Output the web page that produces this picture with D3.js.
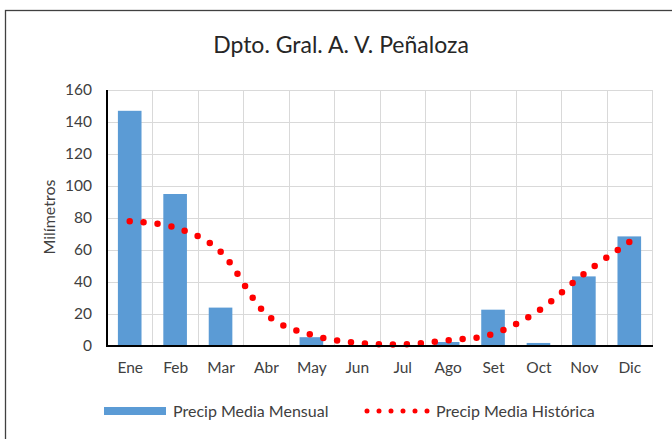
<!DOCTYPE html>
<html>
<head>
<meta charset="utf-8">
<script src="https://cdn.jsdelivr.net/npm/d3@7"></script>
<style>
  html, body { margin: 0; padding: 0; background: #fff; }
  svg { display: block; }
  text { font-family: Lato, "Open Sans", sans-serif; }
</style>
</head>
<body>
<svg id="chart" width="672" height="439"></svg>
<script>
const months = ["Ene","Feb","Mar","Abr","May","Jun","Jul","Ago","Set","Oct","Nov","Dic"];
const mensual = [147, 95, 24, 0, 5.5, 0, 0, 2.5, 22.7, 1.9, 43.5, 68.5];
const historica = [78, 74, 59, 20, 7, 2, 1, 3.5, 7.5, 22, 45, 65];
const yTicks = [0, 20, 40, 60, 80, 100, 120, 140, 160];
const titleText = "Dpto. Gral. A. V. Peñaloza";
const yTitle = "Milímetros";
const seriesNames = ["Precip Media Mensual", "Precip Media Histórica"];

const svg = d3.select("#chart");
const pL = 107, pR = 652, pT = 90, pB = 346;
const fs = 15.5;

// outer border (right and bottom beyond view)
svg.append("rect").attr("x", 5.5).attr("y", 10.5).attr("width", 700).attr("height", 500)
  .attr("fill", "none").attr("stroke", "#404040").attr("stroke-width", 1.3);

const x = d3.scaleBand().domain(months).range([pL, pR]).paddingInner(0.48).paddingOuter(0.24);
const xc = d3.scalePoint().domain(months).range([pL, pR]).padding(0.5);
const y = d3.scaleLinear().domain([0, 160]).range([pB, pT]);

// grid horizontal
svg.append("g").selectAll("line").data(yTicks.slice(1)).join("line")
  .attr("x1", pL).attr("x2", pR)
  .attr("y1", d => Math.round(y(d)) + 0.5).attr("y2", d => Math.round(y(d)) + 0.5)
  .attr("stroke", "#d9d9d9").attr("stroke-width", 1);
// grid vertical at category boundaries
const step = (pR - pL) / months.length;
svg.append("g").selectAll("line").data(d3.range(1, months.length + 1)).join("line")
  .attr("x1", i => Math.round(pL + i * step) + 0.5).attr("x2", i => Math.round(pL + i * step) + 0.5)
  .attr("y1", pT).attr("y2", pB)
  .attr("stroke", "#d9d9d9").attr("stroke-width", 1);

// bars
svg.append("g").selectAll("rect").data(mensual).join("rect")
  .attr("x", (d, i) => x(months[i]))
  .attr("width", x.bandwidth())
  .attr("y", d => y(d))
  .attr("height", d => pB - y(d))
  .attr("fill", "#5b9bd5");

// historical smoothed dotted line
const line = d3.line().x((d, i) => xc(months[i])).y(d => y(d)).curve(d3.curveCardinal.tension(0));
svg.append("path").datum(historica).attr("d", line)
  .attr("fill", "none").attr("stroke", "#ff0000").attr("stroke-width", 6.5)
  .attr("stroke-linecap", "round").attr("stroke-dasharray", "0 14");

// axes
const yAxis = d3.axisLeft(y).tickValues(yTicks).tickSize(0).tickPadding(15);
const gy = svg.append("g").attr("transform", `translate(${pL},0)`).call(yAxis);
gy.select(".domain").remove();
gy.selectAll("text").attr("font-size", fs).attr("fill", "#404040").style("font-family", "Lato, sans-serif");

const xAxis = d3.axisBottom(xc).tickSize(0).tickPadding(16);
const gx = svg.append("g").attr("transform", `translate(0,${pB})`).call(xAxis);
gx.select(".domain").remove();
gx.selectAll("text").attr("font-size", fs).attr("fill", "#404040").style("font-family", "Lato, sans-serif");

svg.append("line").attr("x1", pL).attr("x2", pL).attr("y1", pT).attr("y2", pB + 1)
  .attr("stroke", "#000").attr("stroke-width", 2);
svg.append("line").attr("x1", pL - 1).attr("x2", pR + 1).attr("y1", pB).attr("y2", pB)
  .attr("stroke", "#000").attr("stroke-width", 2);

// title
svg.append("text").attr("x", 341).attr("y", 53).attr("text-anchor", "middle")
  .attr("font-size", 23).attr("fill", "#262626").text(titleText);

// y title
svg.append("text").attr("transform", "translate(55,217) rotate(-90)").attr("text-anchor", "middle")
  .attr("font-size", 16).attr("fill", "#404040").text(yTitle);

// legend
const ly = 411;
svg.append("rect").attr("x", 104).attr("y", ly - 4).attr("width", 62).attr("height", 8).attr("fill", "#5b9bd5");
svg.append("text").attr("x", 173).attr("y", ly + 5.5).attr("font-size", 16).attr("fill", "#404040").text(seriesNames[0]);
svg.append("line").attr("x1", 367).attr("x2", 427.5).attr("y1", ly).attr("y2", ly)
  .attr("stroke", "#ff0000").attr("stroke-width", 5).attr("stroke-linecap", "round").attr("stroke-dasharray", "0 12");
svg.append("text").attr("x", 436).attr("y", ly + 5.5).attr("font-size", 16).attr("fill", "#404040").text(seriesNames[1]);
</script>
</body>
</html>
